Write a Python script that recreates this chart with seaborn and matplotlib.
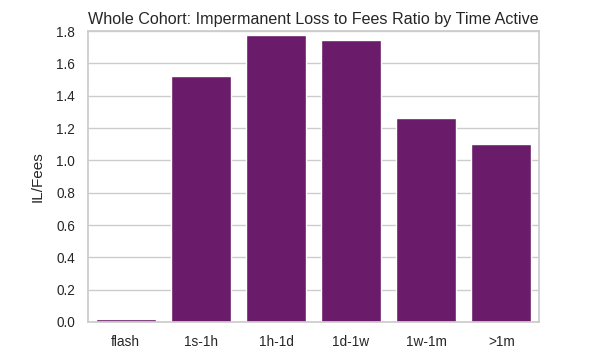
import matplotlib
matplotlib.use("Agg")
import matplotlib.pyplot as plt
import seaborn as sns
import pandas as pd

categories = ["flash", "1s-1h", "1h-1d", "1d-1w", "1w-1m", ">1m"]
il_fees = [0.02, 1.52, 1.775, 1.744, 1.263, 1.099]

sns.set_theme(style="whitegrid")
plt.rcParams["font.family"] = ["Liberation Sans", "DejaVu Sans"]

df = pd.DataFrame({"Time Active": categories, "IL/Fees": il_fees})

fig = plt.figure(figsize=(6, 3.54), dpi=100)
ax = fig.add_axes([0.147, 0.0904, 0.751, 0.822])
sns.barplot(data=df, x="Time Active", y="IL/Fees", color="#6a1b69",
            saturation=1, width=0.8, ax=ax)
ax.set_ylim(0, 1.8)
ax.set_yticks([0, 0.2, 0.4, 0.6, 0.8, 1.0, 1.2, 1.4, 1.6, 1.8])
ax.set_title("Whole Cohort: Impermanent Loss to Fees Ratio by Time Active",
             fontsize=11.6, pad=5)
ax.tick_params(labelsize=9.8)
ax.set_ylabel("IL/Fees", fontsize=11, labelpad=8)
ax.set_xlabel("Time Active", fontsize=11, labelpad=6)
fig.savefig("out.png", dpi=100)
